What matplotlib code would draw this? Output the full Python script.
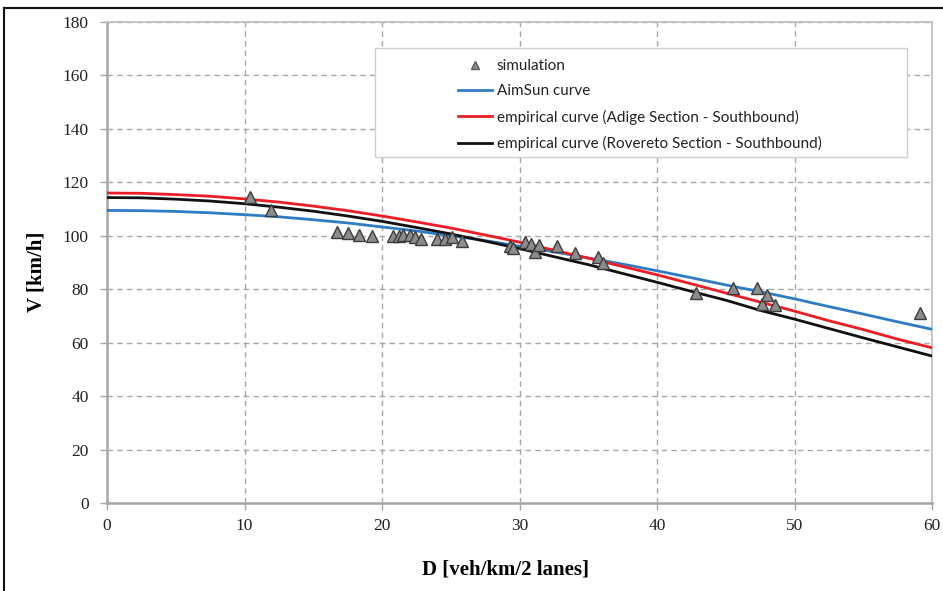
import matplotlib
matplotlib.use("Agg")
import matplotlib.pyplot as plt
from matplotlib.patches import Rectangle
from matplotlib.lines import Line2D

# ---- data ----
sim_D = [10.4, 11.9, 16.7, 17.5, 18.3, 19.3, 20.8, 21.2, 21.5, 22.0, 22.4, 22.8,
         24.0, 24.6, 25.1, 25.8, 29.3, 29.5, 30.4, 30.8, 31.1, 31.4, 32.7, 34.0,
         35.7, 36.1, 42.8, 45.5, 47.3, 47.6, 48.0, 48.6, 59.1]
sim_V = [114.5, 109.5, 101.4, 101.0, 100.3, 100.0, 100.0, 99.8, 100.3, 100.3, 99.5, 98.8,
         98.8, 98.8, 99.7, 97.9, 96.2, 95.4, 97.8, 97.0, 94.0, 96.5, 96.0, 93.5,
         92.0, 89.8, 78.6, 80.5, 80.5, 74.5, 77.8, 74.1, 71.0]

curve_D = [0, 2.5, 5, 7.5, 10, 12.5, 15, 17.5, 20, 22.5, 25, 27.5, 30,
           32.5, 35, 37.5, 40, 42.5, 45, 47.5, 50, 52.5, 55, 57.5, 60]
aimsun_V = [109.5, 109.4, 109.1, 108.6, 107.9, 107.1, 106.0, 104.8, 103.3, 101.8, 100.0, 98.2, 96.1,
            94.0, 91.7, 89.4, 86.9, 84.3, 81.6, 79.1, 76.4, 73.5, 70.7, 67.8, 65.0]
adige_V = [116.0, 115.9, 115.4, 114.8, 113.8, 112.6, 111.1, 109.4, 107.4, 105.2, 102.9, 100.3, 97.6,
           94.6, 91.6, 88.5, 85.4, 82.0, 78.6, 75.2, 71.8, 68.2, 64.9, 61.3, 58.1]
rovereto_V = [114.3, 114.2, 113.7, 113.0, 112.0, 110.7, 109.2, 107.4, 105.4, 103.1, 100.7, 98.0, 95.2,
              92.2, 89.2, 85.9, 82.6, 79.2, 75.9, 72.1, 68.8, 65.3, 61.8, 58.4, 55.0]

x_ticks = [0, 10, 20, 30, 40, 50, 60]
y_ticks = [0, 20, 40, 60, 80, 100, 120, 140, 160, 180]

labels = ["simulation", "AimSun curve",
          "empirical curve (Adige Section - Southbound)",
          "empirical curve (Rovereto Section - Southbound)"]

# ---- figure ----
W, H = 943, 591
fig = plt.figure(figsize=(W / 100, H / 100), dpi=100)
fig.patch.set_facecolor("white")
ax = fig.add_axes([107 / W, 1 - 503 / H, (932 - 107) / W, (503 - 22) / H])

grid_c = "#a8a8a8"
spine_c = "#a6a6a6"

ax.set_xlim(0, 60)
ax.set_ylim(0, 180)
ax.set_xticks(x_ticks)
ax.set_yticks(y_ticks)
ax.grid(True, color=grid_c, linestyle=(0, (4, 3)), linewidth=1.0)
ax.set_axisbelow(True)
for s in ["left", "bottom"]:
    ax.spines[s].set_color(spine_c)
    ax.spines[s].set_linewidth(1.8)
for s in ["top", "right"]:
    ax.spines[s].set_color("#c0c0c0")
    ax.spines[s].set_linewidth(1.3)
ax.tick_params(axis="both", direction="out", length=5, width=1, color=spine_c,
               labelsize=12.5, labelcolor="#222222")
ax.tick_params(axis="x", pad=6)
ax.tick_params(axis="y", pad=8)
for lab in ax.get_xticklabels() + ax.get_yticklabels():
    lab.set_family("Liberation Serif")

ax.plot(curve_D, aimsun_V, color="#2e7cc4", lw=2.0, zorder=3)
ax.plot(curve_D, adige_V, color="#ee1c24", lw=2.0, zorder=3)
ax.plot(curve_D, rovereto_V, color="#111111", lw=2.0, zorder=3)
ax.plot(sim_D, sim_V, linestyle="none", marker="^", markersize=8,
        markerfacecolor="#8c8c8c", markeredgecolor="#3c3c3c", markeredgewidth=1.0, zorder=4)

ax.set_xlabel("D [veh/km/2 lanes]", fontsize=15, fontweight="bold",
              family="Liberation Serif")
ax.set_ylabel("V [km/h]", fontsize=15, fontweight="bold",
              family="Liberation Serif")
ax.xaxis.set_label_coords((505 - 107) / 825, -0.118)
ax.yaxis.set_label_coords((47 - 107) / 825, (503 - 272) / 481)

# legend box (Excel style, white fill over the grid)
ax0, ay0 = 107, 503
box = Rectangle(((375 - ax0) / 825, (ay0 - 157) / 481), (907 - 375) / 825, (157 - 48) / 481,
                transform=ax.transAxes, facecolor="white", edgecolor="#d0d0d0",
                linewidth=1.0, zorder=5)
ax.add_patch(box)

handles = [
    Line2D([], [], linestyle="none", marker="^", markersize=6,
           markerfacecolor="#8c8c8c", markeredgecolor="#5a5a5a"),
    Line2D([], [], color="#2e7cc4", lw=2.0),
    Line2D([], [], color="#ee1c24", lw=2.0),
    Line2D([], [], color="#111111", lw=2.0),
]
leg = ax.legend(handles, labels, loc="upper left",
                bbox_to_anchor=((455 - ax0) / 825, (ay0 - 56) / 481),
                frameon=False, prop={"family": "Lato", "size": 11},
                handlelength=2.2, handletextpad=0.33, labelspacing=0.74,
                borderpad=0.2, borderaxespad=0)
leg.set_zorder(6)
for t in leg.get_texts():
    t.set_color("#222222")

# outer figure border (top and left)
fig.add_artist(Line2D([4 / W, 1], [1 - 8 / H, 1 - 8 / H], transform=fig.transFigure,
                      color="#111111", lw=1.5))
fig.add_artist(Line2D([4 / W, 4 / W], [0, 1 - 8 / H], transform=fig.transFigure,
                      color="#111111", lw=1.5))

fig.savefig("out.png", dpi=100)
